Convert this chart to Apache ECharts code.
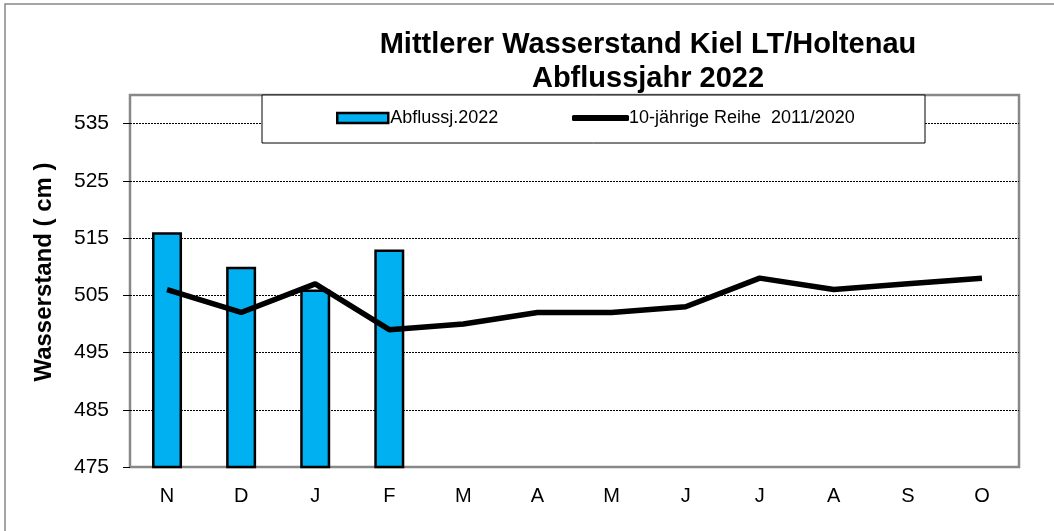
<!DOCTYPE html>
<html lang="de">
<head>
    <meta charset="UTF-8">
    <script src="https://cdn.jsdelivr.net/npm/echarts@6/dist/echarts.min.js"></script>
    <title>Mittlerer Wasserstand Kiel LT/Holtenau</title>
    <style>
        *{ margin: 0; padding: 0; }
        #chart{ width: 1054px; height: 531px; background: #fff; }
    </style>
</head>
<body>
    <div id="chart"></div>
<script>
    // Monate im Abflussjahr (Nov - Okt)
    var months = ['N', 'D', 'J', 'F', 'M', 'A', 'M', 'J', 'J', 'A', 'S', 'O'];
    // Abflussjahr 2022 (bisher nur Nov - Feb)
    var abfluss2022 = [516, 510, 506, 513, null, null, null, null, null, null, null, null];
    // 10-jaehrige Reihe 2011/2020
    var reihe10 = [506, 502, 507, 499, 500, 502, 502, 503, 508, 506, 507, 508];
    var yTicks = [475, 485, 495, 505, 515, 525, 535];

    var chart = echarts.init(document.getElementById('chart'));
    var option = {
        backgroundColor: '#fff',
        animation: false,
        textStyle: { fontFamily: 'Liberation Sans, Arial, sans-serif', color: '#000' },
        title: {
            text: 'Mittlerer Wasserstand Kiel LT/Holtenau\nAbflussjahr 2022',
            left: 643,
            top: 23,
            textAlign: 'center',
            textStyle: { fontSize: 29, fontWeight: 'bold', lineHeight: 34, color: '#000' }
        },
        graphic: [
            // Aussenrahmen (nur links/oben sichtbar)
            {
                type: 'rect', z: 0, silent: true,
                shape: { x: 5, y: 4, width: 1100, height: 600 },
                style: { fill: null, stroke: '#888', lineWidth: 1.5 }
            },
            // Rahmen der Legende
            {
                type: 'rect', z: 50, silent: true,
                shape: { x: 262, y: 95, width: 663, height: 48 },
                style: { fill: '#fff', stroke: '#000', lineWidth: 1 }
            },
            // Achsentitel
            {
                type: 'text', z: 50, silent: true,
                x: 44, y: 272, rotation: Math.PI / 2,
                style: {
                    text: 'Wasserstand ( cm )',
                    font: 'bold 24px Liberation Sans, Arial, sans-serif',
                    fill: '#000', textAlign: 'center', textVerticalAlign: 'middle'
                }
            }
        ],
        legend: [
            {
                data: [{ name: 'Abflussj.2022', icon: 'rect' }],
                left: 336, top: 109, padding: 0, z: 60,
                itemWidth: 51, itemHeight: 10,
                itemStyle: { borderColor: '#000', borderWidth: 2.5 },
                textStyle: { fontSize: 18, color: '#000', padding: [0, 0, 0, -3] }
            },
            {
                data: [{ name: '10-jährige Reihe  2011/2020', icon: 'roundRect' }],
                left: 572, top: 109, padding: 0, z: 60,
                itemWidth: 57, itemHeight: 6,
                itemStyle: { color: '#000', borderWidth: 0 },
                textStyle: { fontSize: 18, color: '#000', padding: [0, 0, 0, -5] }
            }
        ],
        grid: {
            left: 130, top: 95, right: 35, bottom: 64,
            show: true, borderColor: '#888', borderWidth: 2.5
        },
        xAxis: {
            type: 'category',
            data: months,
            boundaryGap: true,
            axisLine: { show: false },
            axisTick: { show: false },
            axisLabel: { fontSize: 20, color: '#000', margin: 19 }
        },
        yAxis: {
            type: 'value',
            min: 475,
            max: 540,
            axisLine: { show: false },
            axisTick: {
                show: true, inside: false, length: 7,
                customValues: yTicks,
                lineStyle: { color: '#000', width: 1 }
            },
            axisLabel: { fontSize: 21, color: '#000', margin: 21, customValues: yTicks },
            splitLine: {
                show: true,
                showMinLine: false,
                lineStyle: { color: '#000', width: 1, type: [2, 1] }
            }
        },
        series: [
            {
                name: 'Abflussj.2022',
                type: 'bar',
                data: abfluss2022,
                barWidth: 30,
                z: 3,
                itemStyle: { color: '#00B0F0', borderColor: '#000', borderWidth: 2.5 }
            },
            {
                name: '10-jährige Reihe  2011/2020',
                type: 'line',
                data: reihe10,
                symbol: 'none',
                z: 4,
                lineStyle: { color: '#000', width: 5.5 },
                itemStyle: { color: '#000' }
            }
        ]
    };
    chart.setOption(option);
</script>
</body>
</html>
